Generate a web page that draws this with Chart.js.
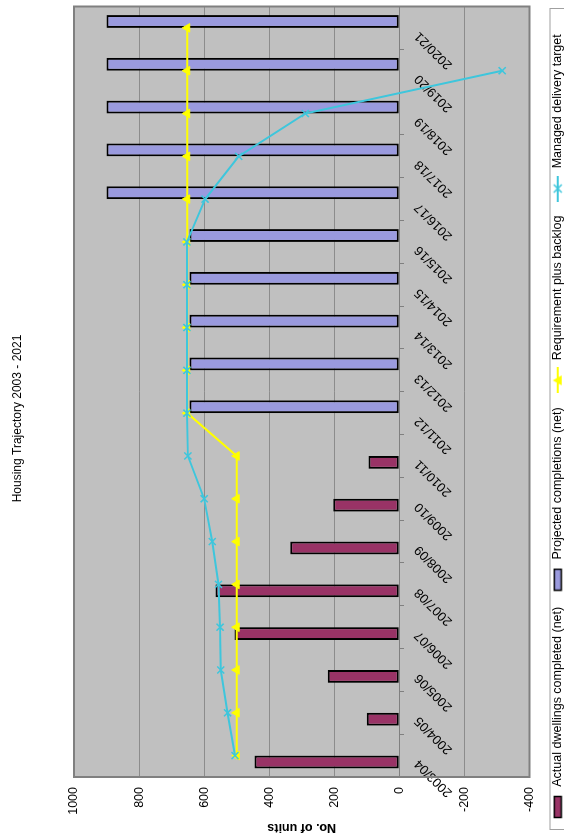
<!DOCTYPE html>
<html>
<head>
<meta charset="utf-8">
<title>Housing Trajectory 2003 - 2021</title>
<script src="https://cdn.jsdelivr.net/npm/chart.js@4.4.1/dist/chart.umd.min.js"></script>
<style>
  html, body { margin: 0; padding: 0; width: 564px; height: 834px; overflow: hidden; background: #fff; }
  /* the chart is laid out landscape and turned a quarter turn anticlockwise onto the portrait page */
  #frame { position: absolute; left: 0; top: 0; width: 834px; height: 574px;
           transform-origin: 0 0; transform: translateY(834px) rotate(-90deg); }
  canvas { display: block; }
</style>
</head>
<body>
<div id="frame"><canvas id="trajectory" width="834" height="574"></canvas></div>
<script>
// Monitoring years
const years = ['2003/04', '2004/05', '2005/06', '2006/07', '2007/08', '2008/09', '2009/10', '2010/11', '2011/12',
               '2012/13', '2013/14', '2014/15', '2015/16', '2016/17', '2017/18', '2018/19', '2019/20', '2020/21'];

// Net dwellings completed to date
const actualCompleted = [445, 100, 220, 507, 565, 335, 203, 95, null, null, null, null, null, null, null, null, null, null];

// Projected net completions
const projectedCompleted = [null, null, null, null, null, null, null, null, 645, 645, 645, 645, 645, 900, 900, 900, 900, 900];

// Annual requirement plus backlog
const requirementBacklog = [500, 500, 500, 500, 500, 500, 500, 500, 652, 652, 652, 652, 652, 652, 652, 652, 652, 652];

// Managed delivery target
const managedTarget = [505, 528, 549, 551, 556, 575, 600, 650, 653, 653, 653, 653, 653, 597, 494, 289, -316, null];

// Value axis ticks
const unitTicks = [1000, 800, 600, 400, 200, 0, -200, -400];

const seriesNames = ['Actual dwellings completed (net)', 'Projected completions (net)',
                     'Requirement plus backlog', 'Managed delivery target'];

const PLUM = '#993366';
const LAVENDER = '#9a9ade';
const YELLOW = '#ffff00';
const CYAN = '#3ec6dc';

Chart.defaults.font.family = '"Liberation Sans", Arial, sans-serif';
Chart.defaults.color = '#000';

// small canvases used as legend keys
function keyCanvas(w, h, paint) {
  const c = document.createElement('canvas');
  c.width = w; c.height = h;
  paint(c.getContext('2d'), w, h);
  return c;
}
function barKey(fill) {
  return keyCanvas(24, 10, (g) => {
    g.fillStyle = fill; g.fillRect(1, 1, 22, 8);
    g.strokeStyle = '#000'; g.lineWidth = 1.5; g.strokeRect(1.5, 1.5, 21, 7);
  });
}
const legendKeys = [
  barKey(PLUM),
  barKey(LAVENDER),
  keyCanvas(26, 12, (g, w) => {
    g.strokeStyle = YELLOW; g.lineWidth = 2;
    g.beginPath(); g.moveTo(0, 6); g.lineTo(w, 6); g.stroke();
    g.fillStyle = YELLOW; g.beginPath(); g.moveTo(13, 1); g.lineTo(18, 10); g.lineTo(8, 10); g.closePath(); g.fill();
  }),
  keyCanvas(26, 12, (g, w) => {
    g.strokeStyle = CYAN; g.lineWidth = 2;
    g.beginPath(); g.moveTo(0, 6); g.lineTo(w, 6); g.stroke();
    g.lineWidth = 1.5;
    g.beginPath(); g.moveTo(9, 2); g.lineTo(17, 10); g.moveTo(17, 2); g.lineTo(9, 10); g.stroke();
  })
];

// grey plot area with a frame, and a frame round the legend
const plotFrame = {
  id: 'plotFrame',
  beforeDraw(chart) {
    const { ctx, chartArea: a } = chart;
    ctx.save();
    ctx.fillStyle = '#c0c0c0';
    ctx.fillRect(a.left, a.top, a.width, a.height);
    ctx.restore();
  },
  beforeDatasetsDraw(chart) {
    const { ctx, chartArea: a } = chart;
    ctx.save();
    ctx.strokeStyle = '#808080';
    ctx.lineWidth = 2;
    ctx.strokeRect(a.left, a.top, a.width, a.height);
    ctx.restore();
  },
  afterDraw(chart) {
    const { ctx, legend } = chart;
    ctx.save();
    ctx.strokeStyle = '#a0a0a0';
    ctx.lineWidth = 1;
    ctx.strokeRect(legend.left + 4.5, legend.top + 20.5, legend.width - 10, legend.height);
    ctx.restore();
  }
};

new Chart(document.getElementById('trajectory'), {
  type: 'bar',
  data: {
    labels: years,
    datasets: [
      { type: 'bar', label: seriesNames[0], data: actualCompleted, backgroundColor: PLUM,
        borderColor: '#000', borderWidth: 2, borderSkipped: false,
        categoryPercentage: 0.6, barPercentage: 1, order: 3 },
      { type: 'bar', label: seriesNames[1], data: projectedCompleted, backgroundColor: LAVENDER,
        borderColor: '#000', borderWidth: 2, borderSkipped: false,
        categoryPercentage: 0.6, barPercentage: 1, order: 3 },
      { type: 'line', label: seriesNames[2], data: requirementBacklog, borderColor: YELLOW, backgroundColor: YELLOW,
        borderWidth: 2, pointStyle: 'triangle', pointRadius: 5, pointBorderWidth: 1,
        pointBackgroundColor: YELLOW, pointBorderColor: YELLOW, tension: 0, order: 2 },
      { type: 'line', label: seriesNames[3], data: managedTarget, borderColor: CYAN, backgroundColor: CYAN,
        borderWidth: 2, pointStyle: 'crossRot', pointRadius: 5, pointBorderWidth: 1.5,
        pointBorderColor: CYAN, tension: 0, order: 1 }
    ]
  },
  options: {
    responsive: false,
    devicePixelRatio: 1,
    animation: false,
    layout: { padding: { left: 0, right: 3, top: 0, bottom: 0 } },
    scales: {
      x: {
        type: 'category',
        position: { y: 0 },
        offset: true,
        grid: { display: true, drawOnChartArea: false, drawTicks: true, tickLength: 4, color: '#808080', offset: true },
        border: { display: true, color: '#808080', width: 1 },
        ticks: { autoSkip: false, minRotation: 45, maxRotation: 45, padding: 8, labelOffset: -6,
                 font: { size: 13 }, color: '#000' }
      },
      y: {
        type: 'linear',
        min: Math.min(...unitTicks),
        max: Math.max(...unitTicks),
        ticks: { stepSize: unitTicks[0] - unitTicks[1], padding: 10, font: { size: 12.5 }, color: '#000',
                 callback: v => String(v) },
        grid: { color: '#8c8c8c', lineWidth: 1, drawTicks: false },
        border: { display: false },
        title: { display: true, text: 'No. of units', font: { size: 12.5, weight: 'bold', lineHeight: 1 },
                 padding: 0, color: '#000' },
        afterFit(scale) { scale.width = 57; }
      }
    },
    plugins: {
      title: { display: true, text: 'Housing Trajectory 2003 - 2021', color: '#000',
               font: { size: 12, weight: 'normal' }, padding: { top: 10, bottom: 49.6 } },
      legend: {
        display: true,
        position: 'bottom',
        align: 'start',
        title: { display: true, text: '', font: { size: 9, lineHeight: 1 }, padding: 0 },
        labels: {
          usePointStyle: true,
          pointStyleWidth: 28,
          padding: 13,
          color: '#000',
          font: { size: 12.5 },
          generateLabels: chart => chart.data.datasets.map((ds, i) => ({
            text: ds.label, datasetIndex: i, pointStyle: legendKeys[i], hidden: false,
            fillStyle: 'transparent', strokeStyle: 'transparent', lineWidth: 0, fontColor: '#000'
          }))
        }
      },
      tooltip: { enabled: false }
    }
  },
  plugins: [plotFrame]
});
</script>
</body>
</html>
